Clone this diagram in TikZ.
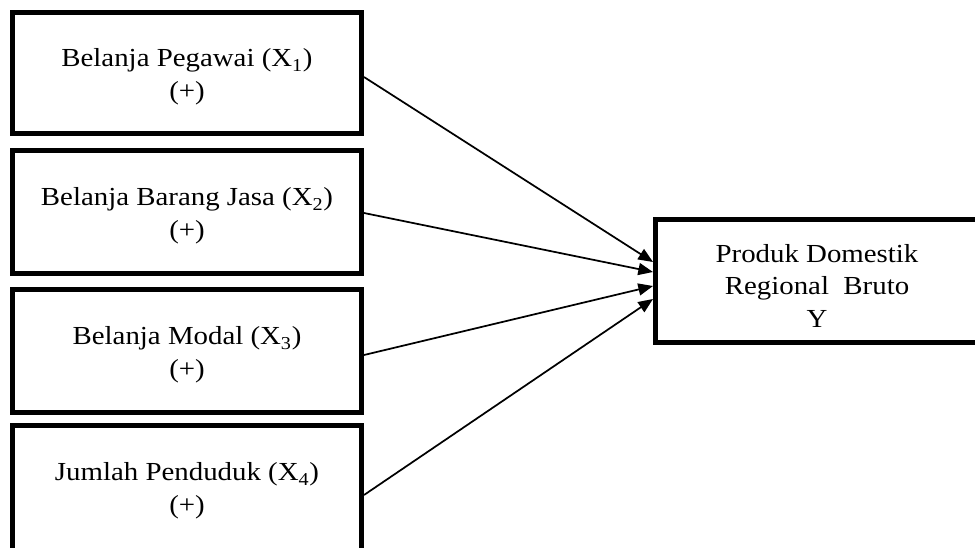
\documentclass[tikz,border=0pt]{standalone}
\usepackage{fontspec}
\setmainfont{Liberation Serif}[FakeStretch=1.11]
\usetikzlibrary{arrows.meta}
\begin{document}
\begin{tikzpicture}[x=0.75pt,y=-0.75pt,
  varbox/.style={draw, line width=3.75pt, rectangle, inner sep=0pt,
    minimum width=261.75pt, minimum height=92.25pt},
  ybox/.style={varbox, minimum width=242.25pt},
  lbl/.style={align=center, inner sep=0pt,
    font=\fontsize{19.5pt}{24.4pt}\selectfont},
  link/.style={line width=1.3pt, -{Triangle[length=11pt,width=9pt]}}]
\useasboundingbox (0,0) rectangle (975,547);
\clip (0,0) rectangle (975,547);

% independent variables
\node[varbox, minimum height=90.75pt] (b1) at (187,73) {};
\node[varbox] (b2) at (187,212) {};
\node[varbox] (b3) at (187,351) {};
\node[varbox, minimum height=95.25pt] (b4) at (187,489) {};
% dependent variable
\node[ybox] (y) at (817,281) {};

\node[lbl] (t1) at ([yshift=-3pt]b1.center) {Belanja Pegawai (X\textsubscript{1})\\(+)};
\node[lbl] (t2) at ([yshift=-3pt]b2.center) {Belanja Barang Jasa (X\textsubscript{2})\\(+)};
\node[lbl] (t3) at ([yshift=-3pt]b3.center) {Belanja Modal (X\textsubscript{3})\\(+)};
\node[lbl] (t4) at ([yshift=-1.5pt]b4.center) {Jumlah Penduduk (X\textsubscript{4})\\(+)};
\node[lbl] (ty) at ([yshift=-3.5pt]y.center) {Produk Domestik\\Regional\ \ Bruto\\Y};

% effects on Y
\draw[link] ([yshift=-3pt]b1.east) -- ([yshift=14.25pt]y.west);
\draw[link] ([yshift=-0.75pt]b2.east) -- ([yshift=6.75pt]y.west);
\draw[link] ([yshift=-3pt]b3.east) -- ([yshift=-3.75pt]y.west);
\draw[link] ([yshift=-4.5pt]b4.east) -- ([yshift=-13.5pt]y.west);
\end{tikzpicture}
\end{document}
